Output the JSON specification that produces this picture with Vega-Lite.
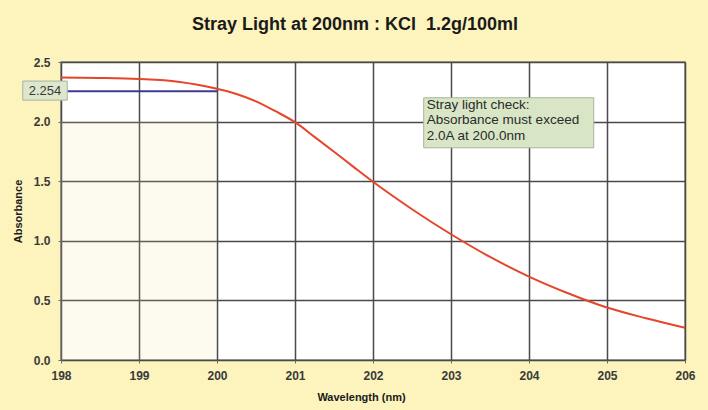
{
  "$schema": "https://vega.github.io/schema/vega-lite/v6.json",
  "width": 624,
  "height": 298,
  "autosize": {"type": "none"},
  "padding": {"left": 61, "top": 62, "right": 23, "bottom": 50},
  "background": "#fcf3bd",
  "title": {
    "text": "Stray Light at 200nm : KCl\u00a0\u00a01.2g/100ml",
    "font": "Liberation Sans",
    "fontSize": 18,
    "fontWeight": "bold",
    "color": "#1a1a1a",
    "dx": -18,
    "offset": 22
  },
  "config": {
    "view": {"fill": "white", "stroke": "#8a8a8a", "strokeWidth": 1.5},
    "axis": {
      "labelFont": "Liberation Sans",
      "labelFontWeight": "bold",
      "labelFontSize": 12,
      "labelColor": "#3a3a3a",
      "labelFlush": false,
      "labelOverlap": false,
      "titleFont": "Liberation Sans",
      "titleFontWeight": "bold",
      "titleFontSize": 11,
      "titleColor": "#1a1a1a",
      "gridColor": "#4a4a4a",
      "gridOpacity": 1,
      "gridWidth": 1.5,
      "domain": false,
      "tickColor": "#6a6a6a",
      "tickSize": 3
    }
  },
  "datasets": {
    "curve": [
      {"wl": 198, "abs": 2.37},
      {"wl": 198.5, "abs": 2.366},
      {"wl": 199, "abs": 2.357},
      {"wl": 199.5, "abs": 2.335},
      {"wl": 199.75, "abs": 2.31},
      {"wl": 200, "abs": 2.275},
      {"wl": 200.25, "abs": 2.232},
      {"wl": 200.5, "abs": 2.17},
      {"wl": 200.75, "abs": 2.087},
      {"wl": 201, "abs": 1.995},
      {"wl": 201.25, "abs": 1.872},
      {"wl": 201.5, "abs": 1.747},
      {"wl": 201.75, "abs": 1.62},
      {"wl": 202, "abs": 1.495},
      {"wl": 202.5, "abs": 1.265},
      {"wl": 203, "abs": 1.055},
      {"wl": 203.5, "abs": 0.865},
      {"wl": 204, "abs": 0.7},
      {"wl": 204.5, "abs": 0.56},
      {"wl": 205, "abs": 0.44},
      {"wl": 205.5, "abs": 0.35},
      {"wl": 206, "abs": 0.27}
    ],
    "shade": [{"x1": 198, "x2": 200, "y1": 0, "y2": 2.0}],
    "check": [{"x1": 198, "x2": 200, "abs": 2.254}],
    "valbox": [{"x1": 197.51, "x2": 198.08, "y1": 2.18, "y2": 2.34, "xm": 197.795, "abs": 2.254, "label": "2.254"}],
    "note": [{"x1": 202.65, "x2": 204.83, "y1": 1.78, "y2": 2.2}],
    "notetext": [
      {"x": 202.69, "y": 2.143, "label": "Stray light check:"},
      {"x": 202.69, "y": 2.013, "label": "Absorbance must exceed"},
      {"x": 202.69, "y": 1.88, "label": "2.0A at 200.0nm"}
    ]
  },
  "layer": [
    {
      "data": {"name": "shade"},
      "mark": {"type": "rect", "fill": "#eedc98", "opacity": 0.14},
      "encoding": {
        "x": {"field": "x1", "type": "quantitative", "scale": {"domain": [198, 206], "nice": false, "zero": false},
              "axis": {"title": "Wavelength (nm)", "values": [198,199,200,201,202,203,204,205,206], "format": "d", "labelPadding": 7, "titleX": 300, "titlePadding": 10}},
        "x2": {"field": "x2"},
        "y": {"field": "y1", "type": "quantitative", "scale": {"domain": [0, 2.5], "nice": false},
              "axis": {"title": "Absorbance", "values": [0, 0.5, 1, 1.5, 2, 2.5], "format": ".1f", "labelPadding": 8, "titlePadding": 10}},
        "y2": {"field": "y2"}
      }
    },
    {
      "data": {"name": "check"},
      "mark": {"type": "rule", "color": "#3b3b95", "strokeWidth": 2},
      "encoding": {
        "x": {"field": "x1", "type": "quantitative"},
        "x2": {"field": "x2"},
        "y": {"field": "abs", "type": "quantitative"}
      }
    },
    {
      "data": {"name": "curve"},
      "mark": {"type": "line", "color": "#e5462a", "strokeWidth": 2, "interpolate": "monotone"},
      "encoding": {
        "x": {"field": "wl", "type": "quantitative"},
        "y": {"field": "abs", "type": "quantitative"}
      }
    },
    {
      "data": {"name": "valbox"},
      "mark": {"type": "rect", "fill": "#dde7cd", "stroke": "#a9b39c", "strokeWidth": 1, "clip": false},
      "encoding": {
        "x": {"field": "x1", "type": "quantitative"},
        "x2": {"field": "x2"},
        "y": {"field": "y1", "type": "quantitative"},
        "y2": {"field": "y2"}
      }
    },
    {
      "data": {"name": "valbox"},
      "mark": {"type": "text", "font": "Liberation Sans", "fontSize": 13, "color": "#3a3a3a", "align": "center", "baseline": "middle", "clip": false},
      "encoding": {
        "x": {"field": "xm", "type": "quantitative"},
        "y": {"field": "abs", "type": "quantitative"},
        "text": {"field": "label"}
      }
    },
    {
      "data": {"name": "note"},
      "mark": {"type": "rect", "fill": "#d8e6c6", "stroke": "#a9b39c", "strokeWidth": 1},
      "encoding": {
        "x": {"field": "x1", "type": "quantitative"},
        "x2": {"field": "x2"},
        "y": {"field": "y1", "type": "quantitative"},
        "y2": {"field": "y2"}
      }
    },
    {
      "data": {"name": "notetext"},
      "mark": {"type": "text", "font": "Liberation Sans", "fontSize": 13.5, "color": "#2a2a2a", "align": "left", "baseline": "middle"},
      "encoding": {
        "x": {"field": "x", "type": "quantitative"},
        "y": {"field": "y", "type": "quantitative"},
        "text": {"field": "label"}
      }
    }
  ]
}
